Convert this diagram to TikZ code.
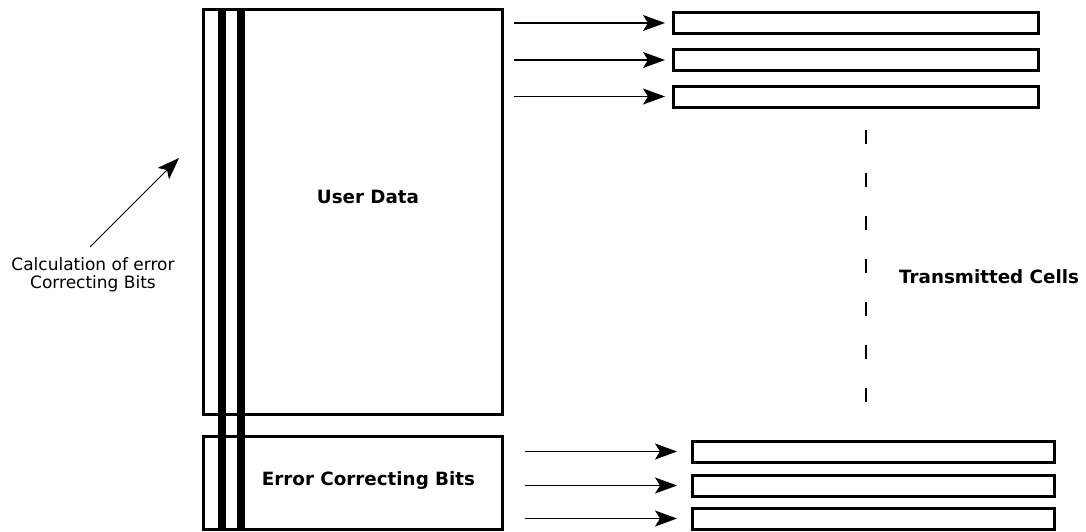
\documentclass[tikz,border=0pt]{standalone}
\usepackage{fontspec}
\setmainfont{DejaVu Sans}
\usetikzlibrary{arrows.meta}
\begin{document}
\begin{tikzpicture}[x=1pt,y=-1pt,
  cell/.style={draw, line width=3pt, fill=white, minimum width=365pt, minimum height=21pt, inner sep=0pt, outer sep=0pt},
  bigbox/.style={draw, line width=3pt, minimum width=299pt, inner sep=0pt, outer sep=0pt},
  bar/.style={fill=black, draw=none, minimum width=8.5pt, minimum height=523pt, inner sep=0pt},
  arr/.style={line width=1.3pt, -{Stealth[length=22pt,width=16pt,inset=5pt]}},
  bold/.style={font=\bfseries\fontsize{18.3pt}{20pt}\selectfont, inner sep=0pt},
  small/.style={font=\fontsize{17pt}{18pt}\selectfont, align=center, inner sep=0pt},
  dashline/.style={line width=2pt, dash pattern=on 14pt off 29pt}
]
\useasboundingbox (0,0) rectangle (1086,531);
% big boxes
\node[bigbox, minimum height=405pt] (ud) at (352.5,211.5) {};
\node[bigbox, minimum height=92.5pt] (ecb) at (352.5,482.75) {};
\node[bar] (bar1) at (222,269) {};
\node[bar] (bar2) at (241,269) {};
\node[bold] (udt) at (368,197) {User Data};
\node[bold] (ecbt) at (368.5,481) {Error Correcting Bits};
% top cells
\node[cell] (c1) at (856,23) {};
\node[cell] (c2) at (856,60) {};
\node[cell] (c3) at (856,96.5) {};
\coordinate (s1) at (514,23);
\coordinate (s2) at (514,60);
\coordinate (s3) at (514,96.5);
\draw[arr, shorten >=8.5pt] (s1) -- (c1.west);
\draw[arr, shorten >=8.5pt] (s2) -- (c2.west);
\draw[arr, shorten >=8.5pt] (s3) -- (c3.west);
% bottom cells
\node[cell, minimum width=362.5pt] (d1) at (873.25,451.5) {};
\node[cell, minimum width=362.5pt] (d2) at (873.25,485.5) {};
\node[cell, minimum width=362.5pt] (d3) at (873.25,518.5) {};
\coordinate (t1) at (524.5,451.5);
\coordinate (t2) at (524.5,485.5);
\coordinate (t3) at (524.5,518.5);
\draw[arr, shorten >=15pt] (t1) -- (d1.west);
\draw[arr, shorten >=15pt] (t2) -- (d2.west);
\draw[arr, shorten >=15pt] (t3) -- (d3.west);
% dashed line
\coordinate (dtop) at (866,130);
\coordinate (dbot) at (866,405);
\draw[dashline] (dtop) -- (dbot);
\node[bold, anchor=west] (tc) at (899,277) {Transmitted Cells};
% calculation label
\node[small] (calc) at (93,275) {Calculation of error\\Correcting Bits};
\coordinate (ctail) at (90,247);
\coordinate (ctip) at (179,158);
\draw[arr, line width=1pt] (ctail) -- (ctip);
\end{tikzpicture}
\end{document}
